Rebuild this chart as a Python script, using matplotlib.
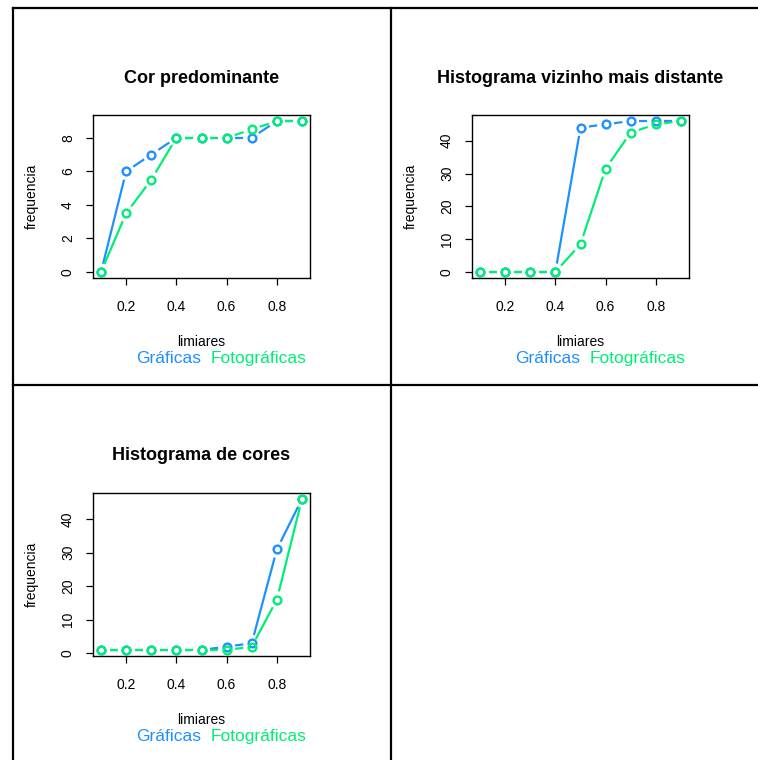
import numpy as np
import matplotlib
matplotlib.use("Agg")
import matplotlib.pyplot as plt
from matplotlib.lines import Line2D

plt.rcParams['font.family'] = ['Liberation Sans', 'DejaVu Sans']

limiares = [0.1, 0.2, 0.3, 0.4, 0.5, 0.6, 0.7, 0.8, 0.9]
x_ticks = [0.2, 0.4, 0.6, 0.8]

titles = ["Cor predominante", "Histograma vizinho mais distante", "Histograma de cores"]

cor_graficas = [0, 6, 7, 8, 8, 8, 8, 9, 9]
cor_fotograficas = [0, 3.5, 5.5, 8, 8, 8, 8.5, 9, 9]

viz_graficas = [0, 0, 0, 0, 44, 45, 46, 46, 46]
viz_fotograficas = [0, 0, 0, 0, 8.5, 31.5, 42.5, 45, 46]

hist_graficas = [1, 1, 1, 1, 1, 2, 3, 31, 46]
hist_fotograficas = [1, 1, 1, 1, 1, 1, 2, 16, 46]

y_ticks = [[0, 2, 4, 6, 8], [0, 10, 20, 30, 40], [0, 10, 20, 30, 40]]

legend_labels = ["Gráficas", "Fotográficas"]
BLUE = "#1E90FF"
GREEN = "#00EE76"

W, H = 758, 760
fig = plt.figure(figsize=(W / 100, H / 100), dpi=100)

# panel boxes in pixels: (left, top, right, bottom)
boxes = [(93, 115, 310, 278), (472, 115, 689, 278), (93, 493, 310, 656)]
series = [(cor_graficas, cor_fotograficas),
          (viz_graficas, viz_fotograficas),
          (hist_graficas, hist_fotograficas)]


def r_lim(vals):
    lo, hi = min(vals), max(vals)
    d = (hi - lo) * 0.04
    return lo - d, hi + d


def type_b(ax, xs, ys, color, gap_px=8.5):
    trans = ax.transData
    pts = trans.transform(np.column_stack([xs, ys]))
    inv = trans.inverted()
    for i in range(len(pts) - 1):
        p0, p1 = pts[i], pts[i + 1]
        v = p1 - p0
        L = np.hypot(*v)
        if L <= 2 * gap_px:
            continue
        u = v / L
        a = inv.transform(p0 + u * gap_px)
        b = inv.transform(p1 - u * gap_px)
        ax.plot([a[0], b[0]], [a[1], b[1]], color=color, lw=1.6,
                solid_capstyle='butt', zorder=2)
    ax.plot(xs, ys, linestyle='none', marker='o', ms=5.6, mfc='none',
            mec=color, mew=1.7, zorder=3)


for k, ((l, t, r, b), (g, f)) in enumerate(zip(boxes, series)):
    ax = fig.add_axes([l / W, (H - b) / H, (r - l) / W, (b - t) / H])
    ax.set_xlim(*r_lim(limiares))
    ax.set_ylim(*r_lim(g + f))
    for s in ax.spines.values():
        s.set_linewidth(1.0)
    ax.set_xticks(x_ticks)
    ax.set_xticklabels([f"{v:.1f}" for v in x_ticks])
    ax.set_yticks(y_ticks[k])
    ax.tick_params(direction='out', length=5, width=0.9, labelsize=10,
                   pad=8)
    ax.tick_params(axis='x', pad=11)
    for lab in ax.get_yticklabels():
        lab.set_rotation(90)
        lab.set_va('center')
    fig.canvas.draw()
    type_b(ax, limiares, g, BLUE)
    type_b(ax, limiares, f, GREEN)

    hpx = b - t
    wpx = r - l
    ax.text(0.5, 1 + 37 / hpx, titles[k], transform=ax.transAxes,
            ha='center', va='center', fontsize=13, fontweight='bold')
    ax.text(-61 / wpx, 0.5, "frequencia", transform=ax.transAxes,
            ha='center', va='center', rotation=90, fontsize=10)
    ax.text(0.5, -64 / hpx, "limiares", transform=ax.transAxes,
            ha='center', va='center', fontsize=10)
    ax.text((136 - 93) / wpx, -85 / hpx, legend_labels[0],
            transform=ax.transAxes, ha='left', va='baseline', fontsize=12.5,
            color=BLUE)
    ax.text((211 - 93) / wpx, -85 / hpx, legend_labels[1],
            transform=ax.transAxes, ha='left', va='baseline', fontsize=12.5,
            color=GREEN)

# outer frame lines
def fline(x0, y0, x1, y1):
    fig.add_artist(Line2D([x0 / W, x1 / W], [1 - y0 / H, 1 - y1 / H],
                          color='black', lw=1.6, transform=fig.transFigure))

fline(12.5, 7.5, 758, 7.5)
fline(12.5, 7.5, 12.5, 760)
fline(390.5, 7.5, 390.5, 760)
fline(12.5, 384.5, 758, 384.5)

fig.savefig("out.png", dpi=100)
